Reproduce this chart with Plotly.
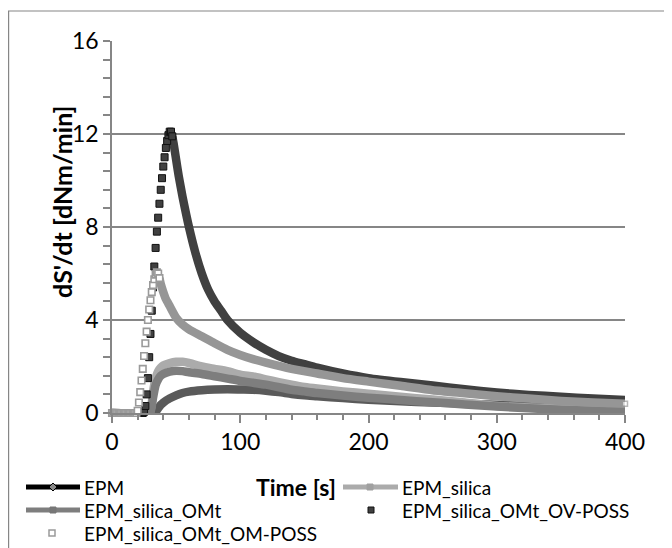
import plotly.graph_objects as go

# ---------------- data ----------------
x_ticks = [0, 100, 200, 300, 400]
y_ticks = [0, 4, 8, 12, 16]

# EPM (lowest curve)
epm_t = [0, 32, 34, 36, 38, 40, 45, 50, 55, 60, 70, 80, 90, 100, 110, 120, 130, 140, 150, 160, 180, 200, 225, 250, 275, 300, 325, 350, 375, 400]
epm_v = [0, 0, 0.05, 0.2, 0.35, 0.45, 0.63, 0.76, 0.86, 0.92, 0.98, 1.01, 1.02, 1.01, 1.0, 0.96, 0.9, 0.82, 0.76, 0.72, 0.64, 0.57, 0.5, 0.45, 0.4, 0.35, 0.31, 0.27, 0.23, 0.2]

# EPM_silica
sil_t = [0, 28, 30, 31, 32, 33, 34, 36, 38, 40, 45, 50, 55, 60, 70, 80, 90, 100, 110, 120, 130, 140, 150, 160, 180, 200, 225, 250, 275, 300, 325, 350, 375, 400]
sil_v = [0, 0, 0.1, 0.45, 0.9, 1.25, 1.5, 1.8, 1.95, 2.05, 2.15, 2.2, 2.2, 2.15, 2.0, 1.9, 1.8, 1.65, 1.57, 1.45, 1.33, 1.22, 1.12, 1.05, 0.93, 0.83, 0.7, 0.58, 0.45, 0.3, 0.24, 0.19, 0.15, 0.13]

# EPM_silica_OMt
omt_t = [0, 29, 30, 31, 32, 33, 34, 36, 38, 40, 45, 50, 55, 60, 70, 80, 90, 100, 110, 120, 140, 150, 160, 180, 200, 225, 250, 275, 300, 325, 350, 375, 400]
omt_v = [0, 0, 0.05, 0.3, 0.65, 0.95, 1.2, 1.45, 1.6, 1.68, 1.78, 1.82, 1.8, 1.75, 1.68, 1.58, 1.48, 1.38, 1.3, 1.22, 1.0, 0.93, 0.86, 0.75, 0.66, 0.56, 0.46, 0.37, 0.28, 0.2, 0.14, 0.1, 0.08]

# EPM_silica_OMt_OV-POSS : individual markers (rise) + dense tail
ov_mk_t = [0, 1, 2, 3, 4, 5, 6, 7, 8, 9, 10, 11, 12, 13, 14, 15, 16, 17, 18, 19, 20, 21, 22, 23, 24,
           25, 26, 27, 28, 29, 30, 31, 32, 33, 34, 35, 36, 37, 38, 39, 40, 41, 42, 43, 44, 45, 46, 47]
ov_mk_v = [0, 0, 0, 0, 0, 0, 0, 0, 0, 0, 0, 0, 0, 0, 0, 0, 0, 0, 0, 0, 0, 0, 0, 0, 0,
           0.05, 0.3, 0.8, 1.5, 2.4, 3.4, 4.4, 5.4, 6.3, 7.1, 7.8, 8.4, 9.0, 9.6, 10.1, 10.6, 11.0, 11.4, 11.7, 11.95, 12.1, 12.1, 11.9]
ov_tail_t = [47, 48, 50, 52, 55, 58, 60, 65, 70, 75, 80, 85, 90, 100, 110, 120, 130, 140, 150, 160, 180, 200, 225, 250, 275, 300, 325, 350, 375, 400]
ov_tail_v = [11.9, 11.6, 10.9, 10.2, 9.3, 8.5, 8.0, 6.9, 6.0, 5.3, 4.8, 4.4, 4.0, 3.45, 3.05, 2.72, 2.45, 2.25, 2.1, 1.95, 1.7, 1.5, 1.33, 1.18, 1.02, 0.88, 0.78, 0.7, 0.62, 0.56]

# EPM_silica_OMt_OM-POSS : individual markers (rise) + dense tail
om_mk_t = [0, 1, 2, 3, 4, 5, 6, 7, 8, 9, 10, 11, 12, 13, 14, 15, 16, 17, 18, 19,
           20, 21, 22, 23, 24, 25, 26, 27, 28, 29, 30, 31, 32, 33, 34, 35, 36, 37]
om_mk_v = [0, 0, 0, 0, 0, 0, 0, 0, 0, 0, 0, 0, 0, 0, 0, 0, 0, 0, 0, 0,
           0.1, 0.45, 0.9, 1.4, 1.9, 2.45, 3.0, 3.5, 4.0, 4.45, 4.85, 5.2, 5.5, 5.75, 5.95, 6.05, 6.0, 5.8]
om_tail_t = [37, 38, 40, 42, 45, 50, 55, 60, 70, 80, 90, 100, 110, 120, 140, 160, 180, 200, 225, 250, 275, 300, 325, 350, 375, 400]
om_tail_v = [5.8, 5.55, 5.2, 4.9, 4.6, 4.1, 3.8, 3.6, 3.3, 3.0, 2.72, 2.5, 2.32, 2.17, 1.9, 1.7, 1.5, 1.35, 1.17, 0.98, 0.85, 0.72, 0.62, 0.52, 0.45, 0.4]

names = ["EPM", "EPM_silica", "EPM_silica_OMt", "EPM_silica_OMt_OV-POSS", "EPM_silica_OMt_OM-POSS"]

# ---------------- geometry helpers (screen pixel -> paper) ----------------
OFF = 8                      # page body margin in the browser
W, H = 672 - OFF, 548 - OFF
PL, PR, PT, PB = 112, 625, 41, 413   # plot area in screen pixels


def px(x):
    return (x - PL) / (PR - PL)


def py(y):
    return (PB - y) / (PB - PT)


FONT = "Lato"
GRID = "#868686"
C_EPM = "#5a5a5a"
C_SIL = "#ababab"
C_OMT = "#7e7e7e"
C_OV = "#404040"
C_OM = "#969696"
LW = 8.5

fig = go.Figure()
spl = dict(shape="spline", smoothing=0.6)

fig.add_trace(go.Scatter(x=epm_t, y=epm_v, mode="lines", name=names[0],
                         line=dict(color=C_EPM, width=LW, **spl)))
fig.add_trace(go.Scatter(x=sil_t, y=sil_v, mode="lines", name=names[1],
                         line=dict(color=C_SIL, width=LW, **spl)))
fig.add_trace(go.Scatter(x=omt_t, y=omt_v, mode="lines", name=names[2],
                         line=dict(color=C_OMT, width=LW, **spl)))
fig.add_trace(go.Scatter(x=ov_tail_t, y=ov_tail_v, mode="lines", name=names[3],
                         line=dict(color=C_OV, width=LW, **spl)))
fig.add_trace(go.Scatter(x=ov_mk_t, y=ov_mk_v, mode="markers", name=names[3], cliponaxis=False,
                         marker=dict(symbol="square", size=7, color=C_OV,
                                     line=dict(color="#111111", width=1))))
om_sizes = [0] * (len(om_tail_t) - 1) + [5]
fig.add_trace(go.Scatter(x=om_tail_t, y=om_tail_v, mode="lines+markers", name=names[4], cliponaxis=False,
                         line=dict(color=C_OM, width=LW, **spl),
                         marker=dict(symbol="square", size=om_sizes, color="white",
                                     line=dict(color="#9a9a9a", width=1.5))))
fig.add_trace(go.Scatter(x=om_mk_t, y=om_mk_v, mode="markers", name=names[4], cliponaxis=False,
                         marker=dict(symbol="square", size=6.5, color="white",
                                     line=dict(color="#9a9a9a", width=1.6))))

# ---------------- manual legend (Excel style) ----------------
shapes = []
annotations = []
LEG_FONT = dict(family=FONT, size=19, color="black")
rows = [487, 510, 533]


def leg_line(x0, x1, y, color):
    shapes.append(dict(type="line", xref="paper", yref="paper", x0=px(x0), x1=px(x1), y0=py(y), y1=py(y),
                       line=dict(color=color, width=5)))


def leg_rect(xc, yc, half, fill, lc, lw):
    shapes.append(dict(type="rect", xref="paper", yref="paper", xsizemode="pixel", ysizemode="pixel",
                       xanchor=px(xc), yanchor=py(yc), x0=-half, x1=half, y0=-half, y1=half,
                       fillcolor=fill, line=dict(color=lc, width=lw)))


def leg_text(x, y, text):
    annotations.append(dict(xref="paper", yref="paper", x=px(x), y=py(y), xanchor="left", yanchor="middle",
                            text=text, showarrow=False, font=LEG_FONT))


leg_line(26, 80, rows[0], "black")
shapes.append(dict(type="path", xref="paper", yref="paper", xsizemode="pixel", ysizemode="pixel",
                   xanchor=px(53), yanchor=py(rows[0]), path="M0,-4L4,0L0,4L-4,0Z",
                   fillcolor="#8a8a8a", line=dict(color="black", width=1)))
leg_text(82, rows[0], names[0])

leg_line(343, 398, rows[0], C_SIL)
leg_rect(370, rows[0], 3, "#a0a0a0", "#a0a0a0", 1)
leg_text(400, rows[0], names[1])

leg_line(26, 80, rows[1], C_OMT)
leg_rect(53, rows[1], 3, "#777777", "#777777", 1)
leg_text(82, rows[1], names[2])

leg_rect(371, rows[1], 3, C_OV, "#111111", 1)
leg_text(400, rows[1], names[3])

leg_rect(52, rows[2], 3, "white", "#9a9a9a", 1.5)
leg_text(82, rows[2], names[4])

# chart frame
shapes.append(dict(type="rect", xref="paper", yref="paper", x0=px(8.6), x1=px(720), y0=py(600), y1=py(11),
                   line=dict(color=GRID, width=1.2), layer="below"))

# axis titles
annotations.append(dict(xref="paper", yref="paper", x=px(62), y=py(202), xanchor="center", yanchor="middle",
                        text="<b>dS'/dt [dNm/min]</b>", textangle=-90, showarrow=False,
                        font=dict(family=FONT, size=25, color="black")))
annotations.append(dict(xref="paper", yref="paper", x=px(296), y=py(487), xanchor="center", yanchor="middle",
                        text="<b>Time [s]</b>", showarrow=False,
                        font=dict(family=FONT, size=23, color="black")))

fig.update_layout(
    width=W, height=H,
    margin=dict(l=PL - OFF, r=(W + OFF) - PR, t=PT - OFF, b=(H + OFF) - PB, autoexpand=False),
    paper_bgcolor="white", plot_bgcolor="white",
    showlegend=False,
    font=dict(family=FONT, color="black"),
    shapes=shapes, annotations=annotations,
    xaxis=dict(range=[0, 400], tickmode="array", tickvals=x_ticks, ticktext=[str(v) for v in x_ticks],
               ticks="outside", ticklen=8, tickwidth=1.5, tickcolor=GRID,
               showline=True, linecolor=GRID, linewidth=1.5, showgrid=False, zeroline=False,
               tickfont=dict(size=23, color="black"),
               minor=dict(ticks="outside", ticklen=5, tickwidth=1.5, tickcolor=GRID, tick0=0, dtick=20, showgrid=False)),
    yaxis=dict(range=[0, 16], tickmode="array", tickvals=y_ticks, ticktext=[str(v) for v in y_ticks],
               ticks="outside", ticklen=7, tickwidth=1.5, tickcolor=GRID,
               showline=True, linecolor=GRID, linewidth=1.5, showgrid=True, gridcolor=GRID, gridwidth=1.5,
               zeroline=False, tickfont=dict(size=23, color="black"),
               minor=dict(ticks="outside", ticklen=7, tickwidth=1.5, tickcolor=GRID, tick0=0, dtick=0.8, showgrid=False)),
)

fig.write_html("out.html")
